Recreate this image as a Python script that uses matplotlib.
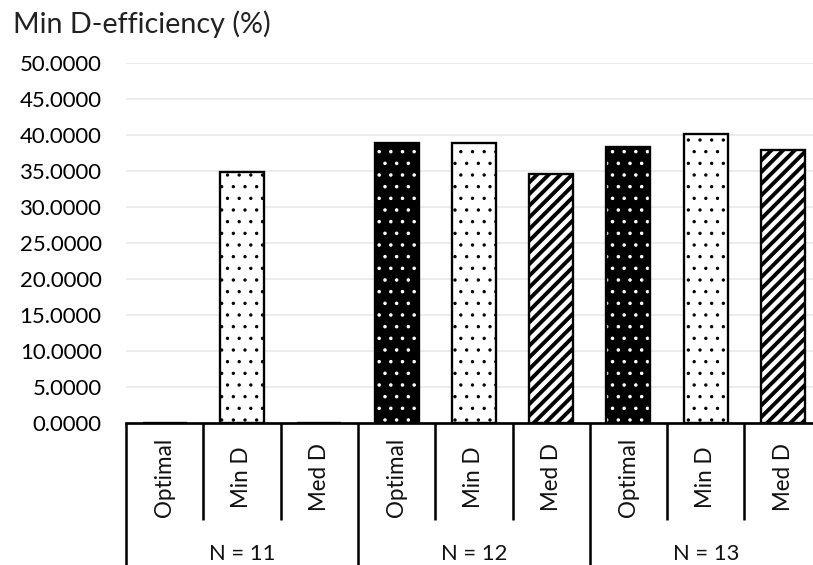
import matplotlib
matplotlib.use('Agg')
import matplotlib.pyplot as plt
import matplotlib.transforms as mtransforms
import numpy as np

plt.rcParams['font.family'] = ['Lato', 'DejaVu Sans']

groups = ['N = 11', 'N = 12', 'N = 13']
methods = ['Optimal', 'Min D', 'Med D']
optimal = [0.0, 38.95, 38.35]
min_d = [34.85, 38.9, 40.25]
med_d = [0.0, 34.6, 37.95]
yticks = np.arange(0, 55, 5)

DPI = 140
fig = plt.figure(figsize=(813 / DPI, 565 / DPI), dpi=DPI)
ax = fig.add_axes([126 / 813, 0.2508, 695.7 / 813, 0.637])

n_m = len(methods)
xpos = np.arange(len(groups) * n_m)
width = 0.57

# (values, face colour, hatch colour, hatch, hatch linewidth)
styles = [
    (optimal, 'black', 'white', '..', 0.6),
    (min_d, 'white', 'black', '..', 0.5),
    (med_d, 'white', 'black', '////', 2.0),
]
for i, (vals, face, hcol, hatch, hlw) in enumerate(styles):
    x = xpos[i::n_m]
    with plt.rc_context({'hatch.linewidth': hlw}):
        bars = ax.bar(x, vals, width, color=face, edgecolor=hcol,
                      hatch=hatch, linewidth=0, zorder=2)
    for b in bars:
        if hasattr(b, 'set_hatch_linewidth'):
            b.set_hatch_linewidth(hlw)
    ax.bar(x, vals, width, fill=False, edgecolor='black', linewidth=1.2,
           zorder=3)

ax.set_xlim(-0.5, len(xpos) - 0.5)
ax.set_ylim(0, 50)
ax.set_yticks(yticks)
ax.set_yticklabels([f'{v:.4f}' for v in yticks], fontsize=11.4)
ax.tick_params(axis='y', length=0, pad=12.5)
ax.set_xticks([])
for s in ax.spines.values():
    s.set_visible(False)
for v in yticks[1:]:
    ax.axhline(v, color='#e6e6e6', linewidth=0.8, zorder=0)
ax.axhline(0, color='black', linewidth=1.4, zorder=4, clip_on=False)

# two-level category axis below the plot
trans = mtransforms.blended_transform_factory(ax.transData, ax.transAxes)
for k in range(len(xpos) + 1):
    bottom = -0.45 if k % n_m == 0 else -0.2686
    ax.plot([k - 0.5, k - 0.5], [0, bottom], color='black', linewidth=1.3,
            transform=trans, clip_on=False, solid_capstyle='butt')
for k, x in enumerate(xpos):
    ax.text(x, -0.1506, methods[k % n_m], rotation=90, ha='center',
            va='center', fontsize=11.6, transform=trans, color='#111111')
for g, name in enumerate(groups):
    ax.text(g * n_m + 1, -0.362, name, ha='center', va='center',
            fontsize=11.3, transform=trans, color='#111111')

fig.text(13 / 813, 1 - 33 / 565, 'Min D-efficiency (%)', fontsize=14.8,
         ha='left', va='baseline', color='#222222')

fig.savefig('out.png', dpi=DPI)
